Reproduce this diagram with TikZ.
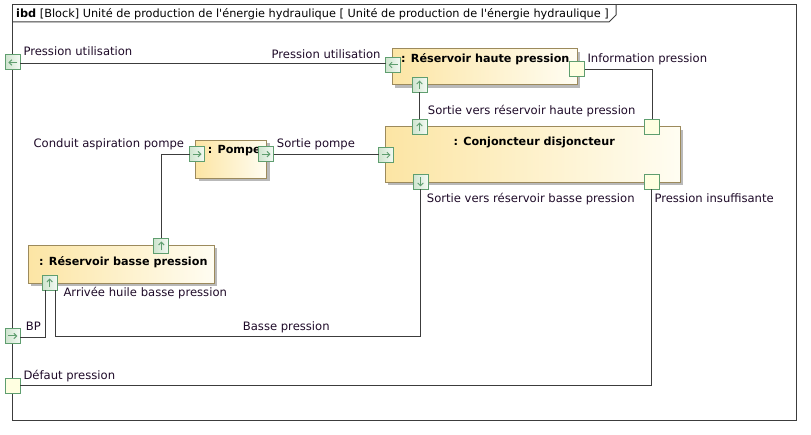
\documentclass[tikz,border=0pt]{standalone}
\usepackage{fontspec}
\setmainfont{DejaVu Sans}
\usetikzlibrary{arrows.meta,shadows}
\definecolor{blockL}{RGB}{252,229,164}
\definecolor{blockR}{RGB}{255,253,242}
\definecolor{blockB}{RGB}{156,138,92}
\definecolor{shadowgray}{RGB}{185,185,185}
\definecolor{portG}{RGB}{95,158,111}
\definecolor{portL}{RGB}{206,228,206}
\definecolor{portR}{RGB}{244,250,244}
\definecolor{plainF}{RGB}{255,255,225}
\definecolor{lineC}{RGB}{60,60,60}
\definecolor{textC}{RGB}{30,10,40}
\tikzset{
  block/.style={draw=blockB, line width=1pt, left color=blockL, right color=blockR, inner sep=0pt, outer sep=0pt,
    drop shadow={shadow xshift=3pt, shadow yshift=-3pt, fill=shadowgray, opacity=1}},
  port/.style={draw=portG, line width=1pt, left color=portL, right color=portR, minimum size=15pt, inner sep=0pt, outer sep=0pt},
  plainport/.style={draw=portG, line width=1pt, fill=plainF, minimum size=15pt, inner sep=0pt, outer sep=0pt},
  parrow/.style={draw=portG, line width=1pt, -{Straight Barb[length=2.8pt,width=5.5pt]}},
  pL/.style={port, path picture={\draw[parrow] ([xshift=-3pt]path picture bounding box.east) -- ([xshift=3pt]path picture bounding box.west);}},
  pR/.style={port, path picture={\draw[parrow] ([xshift=3pt]path picture bounding box.west) -- ([xshift=-3pt]path picture bounding box.east);}},
  pU/.style={port, path picture={\draw[parrow] ([yshift=3pt]path picture bounding box.south) -- ([yshift=-3pt]path picture bounding box.north);}},
  pD/.style={port, path picture={\draw[parrow] ([yshift=-3pt]path picture bounding box.north) -- ([yshift=3pt]path picture bounding box.south);}},
  conn/.style={draw=lineC, line width=1pt},
  lbl/.style={inner sep=0pt, text=textC, font=\fontsize{11.6}{13}\selectfont},
  blbl/.style={inner sep=0pt, text=black, font=\fontsize{11.2}{13}\selectfont\bfseries},
}
\begin{document}
\begin{tikzpicture}[x=1pt,y=-1pt]
\useasboundingbox (0,0) rectangle (811,435);
% frame
\draw[conn] (12,5) rectangle (796.7,420);
\draw[conn] (12,22) -- (609,22) -- (616,15) -- (616,5);
\node[inner sep=0pt, anchor=base west, text=black, font=\fontsize{11.3}{13}\selectfont] (title) at (16,17.5)
  {\textbf{ibd} [Block] Unité de production de l\textquotesingle énergie hydraulique [ Unité de production de l\textquotesingle énergie hydraulique ]};

% blocks
\node[block, minimum width=185pt, minimum height=36pt] (rhp) at (484.5,67) {};
\node[block, minimum width=294.7pt, minimum height=55.6pt] (conj) at (532.7,154.5) {};
\node[block, minimum width=70.7pt, minimum height=38.3pt] (pompe) at (231.3,159.2) {};
\node[block, minimum width=186pt, minimum height=38pt] (rbp) at (121.3,264.3) {};

\node[blbl, anchor=base west] (trhp) at (401,62.5) {: Réservoir haute pression};
\node[blbl, anchor=base] (tconj) at (534.2,146) {: Conjoncteur disjoncteur};
\node[blbl, anchor=base west] (tpompe) at (207.7,153.5) {: Pompe};
\node[blbl, anchor=base west] (trbp) at (39,265.2) {: Réservoir basse pression};

% ports
\node[pL] (fpu) at (12.8,62.5) {};
\node[pR] (fbp) at (12.8,336) {};
\node[plainport] (fdp) at (12.8,386) {};
\node[pL] (rhpL) at (393,65) {};
\node[pU] (rhpB) at (419.5,85) {};
\node[plainport] (rhpR) at (577,69) {};
\node[pU] (conjTL) at (419.5,127) {};
\node[plainport] (conjTR) at (652,127) {};
\node[pR] (conjL) at (386,155) {};
\node[pD] (conjBL) at (420.5,182) {};
\node[plainport] (conjBR) at (652,182) {};
\node[pR] (pompeL) at (197,154.2) {};
\node[pR] (pompeR) at (266,154.2) {};
\node[pU] (rbpT) at (161.3,246) {};
\node[pU] (rbpB) at (49.7,283) {};

% connectors
\coordinate (bpc) at (420.5,336.3);
\coordinate (dpc) at (651.5,385.3);
\draw[conn] ([yshift=-0.8pt]fpu.east) -- ([yshift=-0.8pt]fpu.east -| rhpL.west);
\draw[conn] (rhpB.south) -- (conjTL.north);
\draw[conn] ([yshift=-1pt]rhpR.east) -| (conjTR.north);
\draw[conn] (pompeR.east) -- (pompeR.east -| conjL.west);
\draw[conn] (pompeL.west) -| (rbpT.north);
\draw[conn] ([yshift=-2pt]fbp.east) -| ([xshift=-4.4pt]rbpB.south);
\draw[conn] ([xshift=5.6pt]rbpB.south) |- (bpc) -- (conjBL.south);
\draw[conn] ([yshift=0.7pt]fdp.east) -- (dpc) -- (dpc |- conjBR.south);

% labels
\node[lbl, anchor=base west] (l1) at (23.3,56) {Pression utilisation};
\node[lbl, anchor=base east] (l2) at (380.7,58.7) {Pression utilisation};
\node[lbl, anchor=base west] (l3) at (587.3,62.7) {Information pression};
\node[lbl, anchor=base west] (l4) at (427.7,114.7) {Sortie vers réservoir haute pression};
\node[lbl, anchor=base east] (l5) at (184.3,147.7) {Conduit aspiration pompe};
\node[lbl, anchor=base west] (l6) at (276.7,147.7) {Sortie pompe};
\node[lbl, anchor=base west] (l7) at (426.7,202.7) {Sortie vers réservoir basse pression};
\node[lbl, anchor=base west] (l8) at (654.3,202.7) {Pression insuffisante};
\node[lbl, anchor=base west] (l9) at (63.3,297) {Arrivée huile basse pression};
\node[lbl, anchor=base west] (l10) at (25.7,330.4) {BP};
\node[lbl, anchor=base west] (l11) at (242.7,331) {Basse pression};
\node[lbl, anchor=base west] (l12) at (23.3,379.7) {Défaut pression};
\end{tikzpicture}
\end{document}
